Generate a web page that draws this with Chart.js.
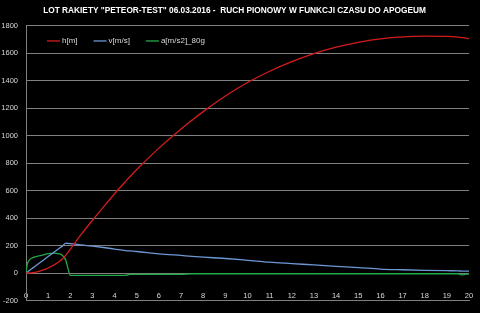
<!DOCTYPE html>
<html lang="pl">
<head>
  <meta charset="UTF-8">
  <title>Lot rakiety Peteor-Test</title>
  <script src="https://cdn.jsdelivr.net/npm/chart.js@4.4.1/dist/chart.umd.min.js"></script>
  <style>
    body {
      margin: 0;
      background: #000;
    }
    #wrap {
      width: 480px;
      height: 313px;
    }
  </style>
</head>
<body>
  <div id="wrap"><canvas id="chart"></canvas></div>

  <script>
    const titleText = 'LOT RAKIETY "PETEOR-TEST" 06.03.2016 -  RUCH PIONOWY W FUNKCJI CZASU DO APOGEUM';
    const seriesNames = ['h[m]', 'v[m/s]', 'a[m/s2]_80g'];
    const seriesColors = ['#d41c1c', '#6c98d4', '#22a84a'];

    // czas [s]
    const time = [0, 0.05, 0.15, 0.3, 0.5, 0.75, 1, 1.25, 1.5, 1.65, 1.8, 1.9, 2, 2.25, 2.5, 3, 3.5, 4, 4.5, 4.7,
                  5, 6, 7, 7.5, 8, 9, 10, 11, 12, 13, 14, 15, 16, 17, 18, 19, 19.5, 19.7, 20];
    const height = [0, 0, 0.5, 3, 9, 21, 37, 58, 84, 104, 130, 151, 173, 229, 283, 384, 482, 578, 668, 703,
                    754, 910, 1050, 1114, 1176, 1290, 1388, 1470, 1540, 1598, 1645, 1681, 1706, 1721, 1726, 1724, 1719, 1715, 1707];
    const velocity = [0, 6, 18, 36, 60, 90, 120, 150, 180, 198, 218, 216, 214, 210, 205, 196, 186, 175, 164, 161,
                      157, 140, 128, 122, 116, 106, 93, 79, 69, 59, 49, 40, 29, 24, 20, 17, 16, 14, 14];
    const accel = [0, 60, 95, 112, 122, 131, 142, 145, 140, 128, 92, 30, -17, -17, -17, -17, -17, -17, -17, -10,
                   -10, -10, -10, -5, -5, -5, -5, -5, -5, -5, -5, -5, -5, -5, -5, -5, -5, -14, -5];

    const yMin = -200, yMax = 1800, yStep = 200;
    const xMin = 0, xMax = 20, xStep = 1;

    const toPoints = vals => time.map((t, i) => ({x: t, y: vals[i]}));
    const allSeries = [height, velocity, accel];
    const fontFamily = '"Liberation Sans", Arial, sans-serif';

    const bgPlugin = {
      id: 'bg',
      beforeDraw(chart) {
        const c = chart.ctx;
        c.save();
        c.fillStyle = '#000';
        c.fillRect(0, 0, chart.width, chart.height);
        c.restore();
      }
    };

    // legenda wewnatrz obszaru wykresu, jak w Excelu
    const innerLegend = {
      id: 'innerLegend',
      afterDraw(chart) {
        const c = chart.ctx;
        const area = chart.chartArea;
        let x = area.left + 21;
        const y = area.top + 15;
        c.save();
        c.font = '8px ' + fontFamily;
        c.textBaseline = 'middle';
        chart.data.datasets.forEach(ds => {
          c.strokeStyle = ds.borderColor;
          c.lineWidth = 1.3;
          c.beginPath();
          c.moveTo(x, y);
          c.lineTo(x + 13, y);
          c.stroke();
          c.fillStyle = '#d9d9d9';
          c.fillText(ds.label, x + 15, y);
          x += 15 + c.measureText(ds.label).width + 16;
        });
        c.restore();
      }
    };

    new Chart(document.getElementById('chart'), {
      type: 'line',
      plugins: [bgPlugin, innerLegend],
      data: {
        datasets: seriesNames.map((name, i) => ({
          label: name,
          data: toPoints(allSeries[i]),
          borderColor: seriesColors[i],
          backgroundColor: seriesColors[i],
          borderWidth: 1.3,
          pointRadius: 0,
          cubicInterpolationMode: 'monotone',
          fill: false
        }))
      },
      options: {
        responsive: true,
        maintainAspectRatio: false,
        animation: false,
        layout: {padding: {left: 0, right: 11, top: 0, bottom: 10}},
        plugins: {
          legend: {display: false},
          tooltip: {enabled: false},
          title: {
            display: true,
            text: titleText,
            color: '#ffffff',
            font: {family: fontFamily, size: 8.3, weight: 'bold'},
            padding: {top: 6, bottom: 10}
          }
        },
        scales: {
          x: {
            type: 'linear',
            min: xMin,
            max: xMax,
            position: {y: yMin},
            grid: {display: false, drawTicks: false},
            border: {display: true, color: '#808080', width: 1},
            ticks: {
              stepSize: xStep,
              color: '#d9d9d9',
              padding: -9,
              maxRotation: 0,
              autoSkip: false,
              font: {family: fontFamily, size: 7.5}
            }
          },
          y: {
            min: yMin,
            max: yMax,
            grid: {color: '#808080', lineWidth: 1, drawTicks: false},
            border: {display: true, color: '#808080', width: 1},
            ticks: {
              stepSize: yStep,
              color: '#d9d9d9',
              padding: 8,
              font: {family: fontFamily, size: 7.5},
              callback: v => String(v)
            },
            afterFit(scale) { scale.width = 26; }
          }
        }
      }
    });
  </script>
</body>
</html>
